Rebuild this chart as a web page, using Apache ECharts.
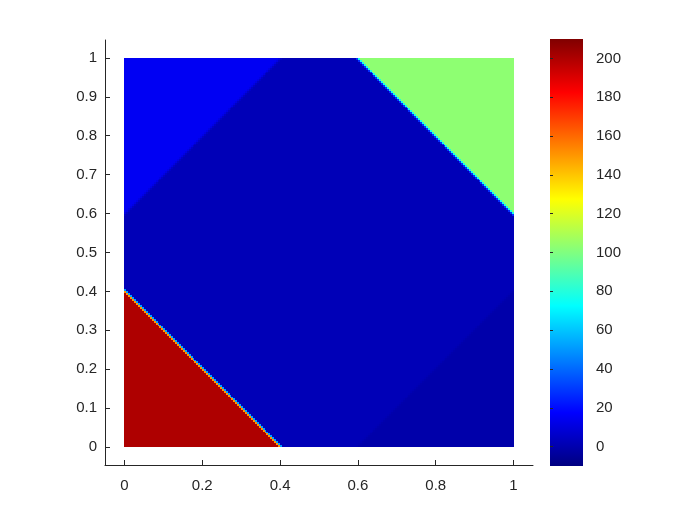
<!DOCTYPE html>
<html><head><meta charset="utf-8">
<script src="https://cdn.jsdelivr.net/npm/echarts@6/dist/echarts.min.js"></script>
<style>html,body{margin:0;padding:0;background:#fff}#c{width:700px;height:525px}</style>
</head><body><div id="c"></div>
<script>
// ---- data ----
const xTickValues = [0, 0.2, 0.4, 0.6, 0.8, 1];
const yTickValues = [0, 0.1, 0.2, 0.3, 0.4, 0.5, 0.6, 0.7, 0.8, 0.9, 1];
const colorbarTickValues = [0, 20, 40, 60, 80, 100, 120, 140, 160, 180, 200];
const colorRange = [-10, 210];
// constant-valued regions of the field (polygon corners, data units) and their values
const regionNames = ['lowerLeft', 'upperRight', 'upperLeft', 'lowerRight'];
const regionPolygons = [
  [[0, 0], [0.4, 0], [0, 0.4]],
  [[0.6, 1], [1, 1], [1, 0.6]],
  [[0, 0.6], [0.4, 1], [0, 1]],
  [[0.6, 0], [1, 0], [1, 0.4]]
];
const regionValues = [200, 103, 15, -1];
const middleValue = 2;
const gridStep = 0.005; // sampling mesh of the field
const jetColors = ['#000080', '#0000ff', '#0080ff', '#00ffff', '#80ff80', '#ffff00', '#ff8000', '#ff0000', '#800000'];

// ---- sample the field on the mesh ----
function inPoly(px, py, poly) {
  let sign = 0;
  for (let i = 0; i < poly.length; i++) {
    const a = poly[i], b = poly[(i + 1) % poly.length];
    const cr = (b[0] - a[0]) * (py - a[1]) - (b[1] - a[1]) * (px - a[0]);
    if (Math.abs(cr) < 1e-9) continue;
    const s = cr > 0 ? 1 : -1;
    if (sign === 0) sign = s; else if (s !== sign) return false;
  }
  return true;
}
function nodeValue(px, py) {
  for (let r = 0; r < regionPolygons.length; r++) {
    if (inPoly(px, py, regionPolygons[r])) return regionValues[r];
  }
  return middleValue;
}
const n = Math.round(1 / gridStep);
const nodes = [];
for (let j = 0; j <= n; j++) {
  const row = [];
  for (let i = 0; i <= n; i++) row.push(nodeValue(i * gridStep, j * gridStep));
  nodes.push(row);
}
const cells = [];
for (let j = 0; j < n; j++) {
  for (let i = 0; i < n; i++) {
    const v = (nodes[j][i] + nodes[j][i + 1] + nodes[j + 1][i] + nodes[j + 1][i + 1]) / 4;
    cells.push([(i + 0.5) * gridStep, (j + 0.5) * gridStep, v]);
  }
}

const axisColor = '#262626';
const fontFamily = '"Liberation Sans", Arial, Helvetica, sans-serif';
const fontSize = 15;

const chart = echarts.init(document.getElementById('c'), null, { renderer: 'canvas' });
const cbStops = jetColors.map((c, i) => ({ offset: i / (jetColors.length - 1), color: c }));
chart.setOption({
  animation: false,
  backgroundColor: '#ffffff',
  grid: [
    { left: 105, top: 40, width: 428, height: 425 },
    { left: 550, top: 39, width: 33, height: 427 }
  ],
  graphic: [{
    type: 'rect', left: 550, top: 39, z: 0, silent: true,
    shape: { width: 33, height: 427 },
    style: { fill: new echarts.graphic.LinearGradient(0, 1, 0, 0, cbStops) }
  }],
  xAxis: [
    {
      gridIndex: 0, type: 'value', min: -0.05, max: 1.05,
      axisLine: { show: true, onZero: false, lineStyle: { color: axisColor, width: 1 } },
      axisTick: { show: true, inside: true, length: 5, customValues: xTickValues, lineStyle: { color: axisColor } },
      axisLabel: { show: true, customValues: xTickValues, formatter: v => String(v), color: axisColor, fontSize: fontSize, fontFamily: fontFamily, margin: 13 },
      splitLine: { show: false }
    },
    { gridIndex: 1, type: 'value', min: 0, max: 1, show: false }
  ],
  yAxis: [
    {
      gridIndex: 0, type: 'value', min: -0.046, max: 1.046,
      axisLine: { show: true, onZero: false, lineStyle: { color: axisColor, width: 1 } },
      axisTick: { show: true, inside: true, length: 5, customValues: yTickValues, lineStyle: { color: axisColor } },
      axisLabel: { show: true, customValues: yTickValues, formatter: v => String(v), color: axisColor, fontSize: fontSize, fontFamily: fontFamily, margin: 8 },
      splitLine: { show: false }
    },
    {
      gridIndex: 1, type: 'value', min: colorRange[0], max: colorRange[1], position: 'right',
      axisLine: { show: false },
      axisTick: { show: true, inside: false, length: 3, customValues: colorbarTickValues, lineStyle: { color: axisColor } },
      axisLabel: { show: true, customValues: colorbarTickValues, formatter: v => String(v), color: axisColor, fontSize: fontSize, fontFamily: fontFamily, margin: 13 },
      splitLine: { show: false }
    }
  ],
  visualMap: {
    type: 'continuous', min: colorRange[0], max: colorRange[1], dimension: 2, seriesIndex: 0,
    inRange: { color: jetColors },
    calculable: false, hoverLink: false, show: false
  },
  series: [{
    type: 'custom', xAxisIndex: 0, yAxisIndex: 0, silent: true, progressive: 0,
    data: cells,
    encode: { x: 0, y: 1 },
    renderItem: function (params, api) {
      const i = Math.round(api.value(0) / gridStep - 0.5);
      const j = Math.round(api.value(1) / gridStep - 0.5);
      const p0 = api.coord([i * gridStep, (j + 1) * gridStep]);
      const p1 = api.coord([(i + 1) * gridStep, j * gridStep]);
      const x0 = Math.round(p0[0]), y0 = Math.round(p0[1]);
      const x1 = Math.round(p1[0]), y1 = Math.round(p1[1]);
      return { type: 'rect', shape: { x: x0, y: y0, width: x1 - x0, height: y1 - y0 }, style: { fill: api.visual('color'), stroke: null } };
    }
  }]
});
</script></body></html>
